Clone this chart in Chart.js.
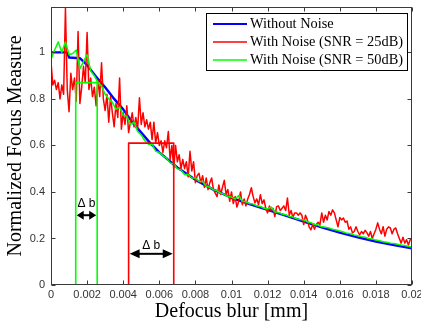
<!DOCTYPE html>
<html>
<head>
<meta charset="utf-8">
<script src="https://cdn.jsdelivr.net/npm/chart.js@4.4.1/dist/chart.umd.min.js"></script>
<style>
  html, body { margin: 0; padding: 0; background: #fff; }
  #wrap { width: 421px; height: 323px; }
</style>
</head>
<body>
<div id="wrap"><canvas id="focusChart" width="421" height="323"></canvas></div>
<script>
// ========== Data ==========
const seriesNames = ['Without Noise', 'With Noise (SNR = 25dB)', 'With Noise (SNR = 50dB)'];
const seriesColors = ['#0000ff', '#ff0000', '#00ff00'];

const xTickValues = [0, 0.002, 0.004, 0.006, 0.008, 0.01, 0.012, 0.014, 0.016, 0.018, 0.02];
const xTickLabels = ['0', '0.002', '0.004', '0.006', '0.008', '0.01', '0.012', '0.014', '0.016', '0.018', '0.02'];
const yTickValues = [0, 0.2, 0.4, 0.6, 0.8, 1];
const yTickLabels = ['0', '0.2', '0.4', '0.6', '0.8', '1'];

// without noise (smooth)
const blueX = [0, 0.0009, 0.001, 0.0016, 0.002, 0.0025, 0.003, 0.0035, 0.004, 0.0045, 0.005, 0.0055, 0.006,
  0.007, 0.008, 0.009, 0.01, 0.011, 0.012, 0.013, 0.014, 0.015, 0.016, 0.017, 0.018, 0.019, 0.02];
const blueY = [1.0, 1.0, 0.978, 0.975, 0.945, 0.895, 0.85, 0.80, 0.755, 0.70, 0.655, 0.61, 0.57,
  0.505, 0.452, 0.41, 0.375, 0.348, 0.323, 0.298, 0.273, 0.248, 0.225, 0.205, 0.187, 0.172, 0.158];

// SNR = 25dB, sampled every 0.0001 mm
const redStep = 0.0001;
const redY = [
  0.96, 0.86, 0.88, 0.84, 0.87, 0.80, 0.86, 0.82, 1.19, 0.84,
  0.745, 0.91, 0.84, 0.89, 0.79, 1.09, 0.78, 0.85, 0.94, 0.87,
  1.085, 0.84, 0.89, 0.81, 0.85, 0.77, 0.88, 0.81, 0.955, 0.80,
  0.75, 0.82, 0.70, 0.81, 0.74, 0.68, 0.78, 0.72, 0.89, 0.67,
  0.74, 0.69, 0.77, 0.655, 0.70, 0.74, 0.68, 0.72, 0.67, 0.805,
  0.69, 0.74, 0.68, 0.71, 0.67, 0.70, 0.625, 0.70, 0.61, 0.655,
  0.60, 0.62, 0.57, 0.62, 0.59, 0.66, 0.54, 0.60, 0.50, 0.60,
  0.53, 0.56, 0.50, 0.54, 0.50, 0.53, 0.465, 0.575, 0.49, 0.53,
  0.44, 0.47, 0.48, 0.44, 0.47, 0.42, 0.46, 0.41, 0.44, 0.46,
  0.41, 0.395, 0.38, 0.43, 0.39, 0.42, 0.45, 0.39, 0.41, 0.36,
  0.40, 0.35, 0.38, 0.335, 0.36, 0.40, 0.345, 0.37, 0.34, 0.37,
  0.39, 0.418, 0.38, 0.353, 0.37, 0.345, 0.388, 0.35, 0.366, 0.33,
  0.31, 0.34, 0.32, 0.33, 0.294, 0.337, 0.34, 0.32, 0.33, 0.34,
  0.32, 0.374, 0.30, 0.32, 0.29, 0.31, 0.31, 0.30, 0.31, 0.30,
  0.26, 0.30, 0.28, 0.25, 0.237, 0.26, 0.24, 0.26, 0.27, 0.26,
  0.31, 0.27, 0.30, 0.28, 0.316, 0.30, 0.323, 0.31, 0.28, 0.25,
  0.29, 0.28, 0.288, 0.27, 0.275, 0.24, 0.25, 0.224, 0.23, 0.25,
  0.23, 0.215, 0.23, 0.22, 0.235, 0.225, 0.21, 0.23, 0.20, 0.22,
  0.24, 0.267, 0.24, 0.22, 0.251, 0.21, 0.24, 0.25, 0.245, 0.22,
  0.24, 0.245, 0.22, 0.20, 0.18, 0.205, 0.18, 0.195, 0.172, 0.195,
  0.20
];

// SNR = 50dB, sampled every 0.0002 mm
const greenStep = 0.0002;
const greenY = [
  0.97, 1.01, 1.045, 1.0, 1.045, 0.99, 0.995, 1.01, 0.93, 0.96,
  0.99, 0.92, 0.90, 0.87, 0.855, 0.82, 0.80, 0.785, 0.755, 0.765,
  0.73, 0.725, 0.69, 0.70, 0.66, 0.645, 0.62, 0.605, 0.605, 0.575,
  0.57, 0.555, 0.545, 0.525, 0.52, 0.50, 0.495, 0.475, 0.475, 0.46,
  0.46, 0.445, 0.445, 0.425, 0.42, 0.41, 0.405, 0.395, 0.39, 0.38,
  0.378, 0.37, 0.385, 0.36, 0.358, 0.35, 0.348, 0.34, 0.338, 0.33,
  0.327, 0.335, 0.315, 0.312, 0.305, 0.302, 0.295, 0.292, 0.285, 0.282,
  0.28, 0.272, 0.268, 0.26, 0.258, 0.25, 0.248, 0.245, 0.24, 0.236,
  0.232, 0.228, 0.222, 0.22, 0.215, 0.212, 0.208, 0.205, 0.2, 0.198,
  0.193, 0.19, 0.186, 0.184, 0.18, 0.178, 0.175, 0.172, 0.17, 0.166,
  0.162
];

// Delta b boxes (green = 50dB, red = 25dB)
const greenBoxX = [0.00137, 0.00137, 0.00256, 0.00256];
const greenBoxY = [0, 0.87, 0.87, 0];
const redBoxX = [0.0043, 0.0043, 0.0068, 0.0068];
const redBoxY = [0, 0.61, 0.61, 0];

// Delta b arrows
const deltaText = 'Δ b';
const deltaX1 = [0.00137, 0.0043];
const deltaX2 = [0.00256, 0.0068];
const deltaY = [0.30, 0.134];
const deltaLabelY = [0.35, 0.167];

// ========== Helpers ==========
const xy = (xs, ys) => ys.map((v, i) => ({ x: xs[i], y: v }));
const stepXY = (step, ys) => ys.map((v, i) => ({ x: i * step, y: v }));
const axisColor = '#3a3a3a';

function drawArrow(ctx, x1, x2, y, head, half) {
  ctx.beginPath();
  ctx.moveTo(x1 + head - 1, y);
  ctx.lineTo(x2 - head + 1, y);
  ctx.stroke();
  ctx.beginPath();
  ctx.moveTo(x1, y); ctx.lineTo(x1 + head, y - half); ctx.lineTo(x1 + head, y + half); ctx.closePath();
  ctx.moveTo(x2, y); ctx.lineTo(x2 - head, y - half); ctx.lineTo(x2 - head, y + half); ctx.closePath();
  ctx.fill();
}

// ========== Frame, inner ticks, arrows ==========
const overlay = {
  id: 'overlay',
  afterDatasetsDraw(chart) {
    const { ctx, chartArea: a, scales: { x, y } } = chart;
    ctx.save();
    const L = Math.round(a.left) + 0.5, R = Math.round(a.right) - 0.5;
    const T = Math.round(a.top) + 0.5, B = Math.round(a.bottom) - 0.5;
    ctx.strokeStyle = axisColor;
    ctx.lineWidth = 1;
    ctx.strokeRect(L, T, R - L, B - T);
    ctx.beginPath();
    x.ticks.forEach(t => {
      const p = Math.round(x.getPixelForValue(t.value)) + 0.5;
      ctx.moveTo(p, B); ctx.lineTo(p, B - 4);
      ctx.moveTo(p, T); ctx.lineTo(p, T + 4);
    });
    y.ticks.forEach(t => {
      const p = Math.round(y.getPixelForValue(t.value)) + 0.5;
      ctx.moveTo(L, p); ctx.lineTo(L + 4, p);
      ctx.moveTo(R, p); ctx.lineTo(R - 4, p);
    });
    ctx.stroke();

    // arrows + labels
    ctx.strokeStyle = '#000';
    ctx.fillStyle = '#000';
    ctx.lineWidth = 2;
    ctx.font = '12px "Liberation Sans", Arial, sans-serif';
    ctx.textAlign = 'center';
    ctx.textBaseline = 'middle';
    deltaX1.forEach((v, i) => {
      const x1 = x.getPixelForValue(v) + 1;
      const x2 = x.getPixelForValue(deltaX2[i]) - 1;
      const py = y.getPixelForValue(deltaY[i]);
      drawArrow(ctx, x1, x2, py, i === 0 ? 7 : 10, 4.5);
      ctx.fillText(deltaText, (x1 + x2) / 2, y.getPixelForValue(deltaLabelY[i]));
    });
    ctx.restore();
  }
};

// ========== Legend box (top right, inside axes) ==========
const legendBox = {
  id: 'legendBox',
  afterDraw(chart) {
    const ctx = chart.ctx;
    ctx.save();
    ctx.fillStyle = '#fff';
    ctx.fillRect(206, 13, 201, 57);
    ctx.strokeStyle = '#000';
    ctx.lineWidth = 1;
    ctx.strokeRect(206.5, 13.5, 201, 57);
    const rows = [24, 42, 60];
    const widths = [2, 1.6, 1.6];
    ctx.font = '14.4px "Liberation Serif", "Times New Roman", serif';
    ctx.textAlign = 'left';
    ctx.textBaseline = 'middle';
    seriesNames.forEach((name, i) => {
      ctx.strokeStyle = seriesColors[i];
      ctx.lineWidth = widths[i];
      ctx.beginPath();
      ctx.moveTo(213, rows[i]);
      ctx.lineTo(247, rows[i]);
      ctx.stroke();
      ctx.fillStyle = '#000';
      ctx.fillText(name, 250, rows[i] + 0.5);
    });
    ctx.restore();
  }
};

// ========== Chart ==========
Chart.defaults.font.family = '"Liberation Sans", Arial, sans-serif';
const lineBase = { pointRadius: 0, pointHoverRadius: 0, tension: 0, fill: false, borderJoinStyle: 'round' };

new Chart(document.getElementById('focusChart').getContext('2d'), {
  type: 'line',
  data: {
    datasets: [
      { ...lineBase, label: seriesNames[0], data: xy(blueX, blueY), borderColor: seriesColors[0], borderWidth: 2.4, order: 5 },
      { ...lineBase, label: seriesNames[1], data: stepXY(redStep, redY), borderColor: seriesColors[1], borderWidth: 1.5, order: 4 },
      { ...lineBase, label: seriesNames[2], data: stepXY(greenStep, greenY), borderColor: seriesColors[2], borderWidth: 1.5, order: 3 },
      { ...lineBase, label: 'box25', data: xy(redBoxX, redBoxY), borderColor: seriesColors[1], borderWidth: 1.6, order: 2 },
      { ...lineBase, label: 'box50', data: xy(greenBoxX, greenBoxY), borderColor: seriesColors[2], borderWidth: 1.6, order: 1 }
    ]
  },
  options: {
    responsive: false,
    animation: false,
    layout: { padding: { top: 7, right: 9, bottom: 0, left: 0 } },
    plugins: { legend: { display: false }, tooltip: { enabled: false } },
    scales: {
      x: {
        type: 'linear',
        min: 0,
        max: 0.02,
        grid: { display: false, drawTicks: false },
        border: { display: false },
        afterBuildTicks: s => { s.ticks = xTickValues.map(v => ({ value: v })); },
        afterFit: s => { s.height = 38; s.paddingLeft = 0; s.paddingRight = 0; },
        ticks: {
          padding: 3,
          maxRotation: 0,
          autoSkip: false,
          color: '#333',
          font: { size: 11 },
          callback: (v, i) => xTickLabels[i]
        },
        title: {
          display: true,
          text: 'Defocus blur [mm]',
          color: '#000',
          font: { family: '"Liberation Serif", "Times New Roman", serif', size: 20 },
          padding: { top: 0, bottom: -1 }
        }
      },
      y: {
        min: 0,
        max: 1.195,
        grid: { display: false, drawTicks: false },
        border: { display: false },
        afterBuildTicks: s => { s.ticks = yTickValues.map(v => ({ value: v })); },
        afterFit: s => { s.width = 51; s.paddingTop = 0; s.paddingBottom = 0; },
        ticks: {
          padding: 6,
          autoSkip: false,
          color: '#333',
          font: { size: 11 },
          callback: (v, i) => yTickLabels[i]
        },
        title: {
          display: true,
          text: 'Normalized Focus Measure',
          color: '#000',
          font: { family: '"Liberation Serif", "Times New Roman", serif', size: 20 },
          padding: { top: 4, bottom: 0 }
        }
      }
    }
  },
  plugins: [overlay, legendBox]
});
</script>
</body>
</html>
